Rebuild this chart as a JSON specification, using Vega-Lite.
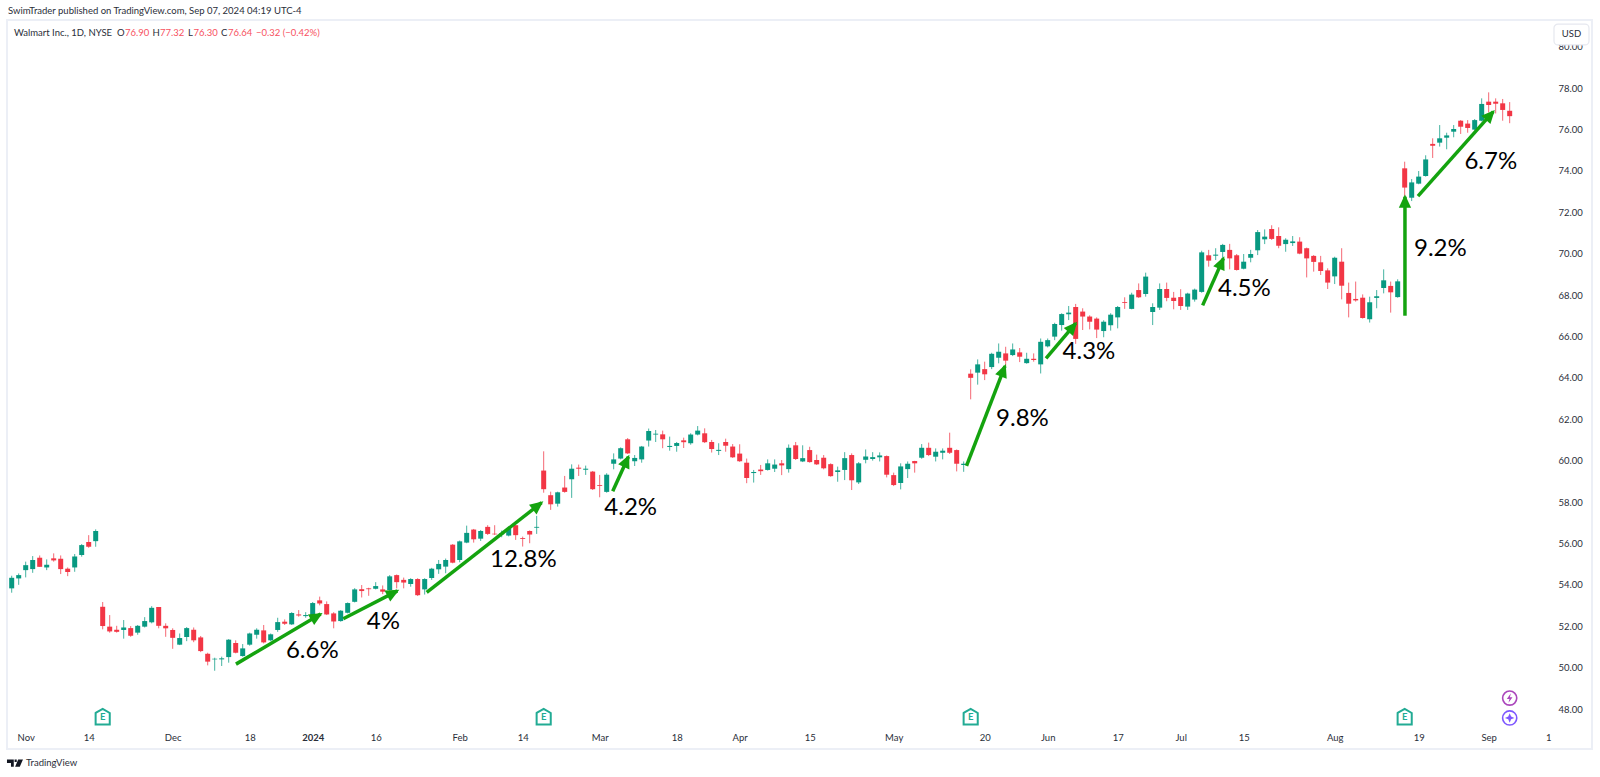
{"$schema":"https://vega.github.io/schema/vega-lite/v6.json","width":1585,"height":729,"autosize":"none","padding":{"left":7,"top":20,"right":8,"bottom":28},"background":"#ffffff","view":{"stroke":"#eceff6","strokeWidth":2},
"datasets":{
"candles":[
{"i":0,"o":53.83,"h":54.44,"l":53.62,"c":54.34},{"i":1,"o":54.31,"h":54.55,"l":54.00,"c":54.47},{"i":2,"o":54.71,"h":55.12,"l":54.36,"c":54.95},{"i":3,"o":54.76,"h":55.39,"l":54.58,"c":55.20},{"i":4,"o":55.31,"h":55.42,"l":54.87,"c":54.87},{"i":5,"o":54.84,"h":55.23,"l":54.71,"c":54.97},{"i":6,"o":55.28,"h":55.52,"l":55.12,"c":55.18},{"i":7,"o":55.26,"h":55.42,"l":54.52,"c":54.76},{"i":8,"o":54.78,"h":54.84,"l":54.42,"c":54.62},{"i":9,"o":54.84,"h":55.49,"l":54.63,"c":55.37},
{"i":10,"o":55.44,"h":55.97,"l":55.36,"c":55.92},{"i":11,"o":56.07,"h":56.40,"l":55.79,"c":55.84},{"i":12,"o":56.11,"h":56.68,"l":55.84,"c":56.60},{"i":13,"o":52.94,"h":53.17,"l":51.85,"c":52.01},{"i":14,"o":51.98,"h":52.54,"l":51.69,"c":51.75},{"i":15,"o":51.83,"h":52.02,"l":51.69,"c":51.73},{"i":16,"o":51.82,"h":52.30,"l":51.40,"c":51.94},{"i":17,"o":51.91,"h":52.01,"l":51.49,"c":51.54},{"i":18,"o":51.69,"h":52.06,"l":51.59,"c":52.02},{"i":19,"o":51.98,"h":52.44,"l":51.94,"c":52.25},
{"i":20,"o":52.19,"h":52.97,"l":52.14,"c":52.89},{"i":21,"o":52.93,"h":52.93,"l":51.90,"c":52.02},{"i":22,"o":52.02,"h":52.14,"l":51.49,"c":51.90},{"i":23,"o":51.82,"h":51.90,"l":50.91,"c":51.44},{"i":24,"o":51.11,"h":51.65,"l":51.09,"c":51.43},{"i":25,"o":51.48,"h":51.96,"l":51.28,"c":51.91},{"i":26,"o":51.83,"h":51.94,"l":51.23,"c":51.32},{"i":27,"o":51.46,"h":51.53,"l":50.75,"c":50.80},{"i":28,"o":50.67,"h":50.72,"l":50.11,"c":50.29},{"i":29,"o":50.40,"h":50.48,"l":49.85,"c":50.43},
{"i":30,"o":50.40,"h":50.53,"l":50.08,"c":50.45},{"i":31,"o":50.51,"h":51.38,"l":50.24,"c":51.35},{"i":32,"o":51.19,"h":51.32,"l":50.69,"c":50.72},{"i":33,"o":50.56,"h":51.14,"l":50.53,"c":50.93},{"i":34,"o":51.11,"h":51.69,"l":51.06,"c":51.65},{"i":35,"o":51.59,"h":51.90,"l":51.40,"c":51.83},{"i":36,"o":51.80,"h":52.06,"l":51.17,"c":51.22},{"i":37,"o":51.32,"h":51.65,"l":51.28,"c":51.61},{"i":38,"o":51.82,"h":52.41,"l":51.73,"c":52.20},{"i":39,"o":52.22,"h":52.33,"l":52.06,"c":52.12},
{"i":40,"o":52.09,"h":52.68,"l":52.06,"c":52.64},{"i":41,"o":52.57,"h":52.78,"l":52.46,"c":52.52},{"i":42,"o":52.49,"h":52.68,"l":52.41,"c":52.54},{"i":43,"o":52.46,"h":53.17,"l":52.43,"c":53.12},{"i":44,"o":53.25,"h":53.43,"l":53.01,"c":53.10},{"i":45,"o":53.07,"h":53.20,"l":52.54,"c":52.57},{"i":46,"o":52.62,"h":52.68,"l":51.90,"c":52.23},{"i":47,"o":52.25,"h":52.78,"l":52.22,"c":52.75},{"i":48,"o":52.65,"h":53.15,"l":52.62,"c":53.12},{"i":49,"o":53.18,"h":53.84,"l":53.15,"c":53.78},
{"i":50,"o":53.79,"h":53.99,"l":53.39,"c":53.70},{"i":51,"o":53.83,"h":53.86,"l":53.47,"c":53.79},{"i":52,"o":53.81,"h":54.13,"l":53.78,"c":53.94},{"i":53,"o":53.78,"h":53.97,"l":53.55,"c":53.67},{"i":54,"o":53.75,"h":54.47,"l":53.71,"c":54.41},{"i":55,"o":54.47,"h":54.50,"l":53.83,"c":54.13},{"i":56,"o":54.24,"h":54.35,"l":53.83,"c":54.11},{"i":57,"o":54.04,"h":54.32,"l":53.91,"c":54.28},{"i":58,"o":54.28,"h":54.32,"l":53.46,"c":53.50},{"i":59,"o":53.78,"h":54.32,"l":53.53,"c":54.28},
{"i":60,"o":54.33,"h":54.82,"l":54.24,"c":54.78},{"i":61,"o":54.75,"h":55.20,"l":54.53,"c":55.01},{"i":62,"o":54.88,"h":55.27,"l":54.56,"c":55.20},{"i":63,"o":55.94,"h":55.97,"l":55.04,"c":55.07},{"i":64,"o":55.20,"h":56.14,"l":55.09,"c":56.10},{"i":65,"o":56.04,"h":56.86,"l":56.01,"c":56.51},{"i":66,"o":56.67,"h":56.70,"l":56.04,"c":56.20},{"i":67,"o":56.23,"h":56.65,"l":56.12,"c":56.60},{"i":68,"o":56.80,"h":56.88,"l":56.41,"c":56.46},{"i":69,"o":56.47,"h":56.88,"l":56.41,"c":56.44},
{"i":70,"o":56.44,"h":56.62,"l":56.30,"c":56.49},{"i":71,"o":56.38,"h":56.81,"l":56.34,"c":56.73},{"i":72,"o":56.88,"h":56.91,"l":56.17,"c":56.40},{"i":73,"o":56.26,"h":56.33,"l":55.85,"c":56.22},{"i":74,"o":56.60,"h":56.63,"l":56.01,"c":56.43},{"i":75,"o":56.76,"h":57.33,"l":56.46,"c":56.80},{"i":76,"o":59.52,"h":60.45,"l":58.45,"c":58.62},{"i":77,"o":58.33,"h":58.50,"l":57.62,"c":57.89},{"i":78,"o":57.92,"h":58.50,"l":57.78,"c":58.47},{"i":79,"o":58.70,"h":59.26,"l":58.45,"c":58.49},
{"i":80,"o":59.10,"h":59.82,"l":58.20,"c":59.61},{"i":81,"o":59.66,"h":59.81,"l":59.26,"c":59.61},{"i":82,"o":59.56,"h":59.76,"l":59.31,"c":59.61},{"i":83,"o":59.47,"h":59.50,"l":58.58,"c":58.62},{"i":84,"o":58.82,"h":59.31,"l":58.23,"c":58.78},{"i":85,"o":58.49,"h":59.39,"l":58.45,"c":59.32},{"i":86,"o":59.85,"h":60.35,"l":59.58,"c":60.06},{"i":87,"o":60.10,"h":60.64,"l":60.06,"c":60.60},{"i":88,"o":61.03,"h":61.09,"l":60.32,"c":60.35},{"i":89,"o":59.97,"h":60.27,"l":59.74,"c":60.13},
{"i":90,"o":60.06,"h":60.71,"l":59.90,"c":60.68},{"i":91,"o":60.97,"h":61.55,"l":60.68,"c":61.43},{"i":92,"o":61.26,"h":61.48,"l":60.90,"c":61.30},{"i":93,"o":61.27,"h":61.45,"l":60.60,"c":61.03},{"i":94,"o":60.66,"h":61.16,"l":60.48,"c":60.71},{"i":95,"o":60.71,"h":60.90,"l":60.43,"c":60.85},{"i":96,"o":60.98,"h":61.11,"l":60.61,"c":60.89},{"i":97,"o":60.84,"h":61.32,"l":60.77,"c":61.26},{"i":98,"o":61.26,"h":61.67,"l":61.22,"c":61.45},{"i":99,"o":61.32,"h":61.56,"l":60.85,"c":60.89},
{"i":100,"o":60.90,"h":61.00,"l":60.39,"c":60.56},{"i":101,"o":60.47,"h":60.84,"l":60.27,"c":60.52},{"i":102,"o":60.90,"h":61.06,"l":60.43,"c":60.72},{"i":103,"o":60.68,"h":60.80,"l":60.13,"c":60.16},{"i":104,"o":60.34,"h":60.79,"l":59.94,"c":59.97},{"i":105,"o":59.90,"h":60.10,"l":58.91,"c":59.16},{"i":106,"o":59.40,"h":59.55,"l":58.94,"c":59.45},{"i":107,"o":59.57,"h":59.79,"l":59.31,"c":59.49},{"i":108,"o":59.55,"h":60.06,"l":59.52,"c":59.87},{"i":109,"o":59.61,"h":60.06,"l":59.45,"c":59.81},
{"i":110,"o":59.87,"h":60.03,"l":59.30,"c":59.77},{"i":111,"o":59.59,"h":60.78,"l":59.42,"c":60.62},{"i":112,"o":60.74,"h":60.90,"l":60.03,"c":60.08},{"i":113,"o":59.96,"h":60.74,"l":59.93,"c":60.12},{"i":114,"o":60.51,"h":60.67,"l":59.90,"c":59.93},{"i":115,"o":60.03,"h":60.29,"l":59.79,"c":59.82},{"i":116,"o":60.14,"h":60.27,"l":59.58,"c":59.63},{"i":117,"o":59.83,"h":59.87,"l":59.22,"c":59.25},{"i":118,"o":59.45,"h":59.71,"l":58.98,"c":59.53},{"i":119,"o":59.55,"h":60.41,"l":59.06,"c":60.12},
{"i":120,"o":60.27,"h":60.35,"l":58.58,"c":59.05},{"i":121,"o":58.95,"h":59.93,"l":58.87,"c":59.87},{"i":122,"o":60.04,"h":60.54,"l":59.87,"c":60.20},{"i":123,"o":60.08,"h":60.41,"l":60.00,"c":60.17},{"i":124,"o":60.16,"h":60.40,"l":59.96,"c":60.25},{"i":125,"o":60.22,"h":60.25,"l":59.19,"c":59.32},{"i":126,"o":59.30,"h":59.42,"l":58.77,"c":58.82},{"i":127,"o":58.92,"h":59.87,"l":58.61,"c":59.72},{"i":128,"o":59.59,"h":59.96,"l":59.16,"c":59.85},{"i":129,"o":59.98,"h":59.99,"l":59.42,"c":59.87},
{"i":130,"o":60.14,"h":60.80,"l":60.09,"c":60.62},{"i":131,"o":60.62,"h":60.87,"l":60.22,"c":60.27},{"i":132,"o":60.19,"h":60.59,"l":59.96,"c":60.43},{"i":133,"o":60.38,"h":60.59,"l":60.06,"c":60.48},{"i":134,"o":60.62,"h":61.35,"l":60.32,"c":60.38},{"i":135,"o":60.51,"h":60.54,"l":59.48,"c":59.85},{"i":136,"o":59.79,"h":59.96,"l":59.46,"c":59.85},{"i":137,"o":64.20,"h":64.41,"l":62.96,"c":64.00},{"i":138,"o":64.25,"h":64.89,"l":63.67,"c":64.65},{"i":139,"o":64.42,"h":64.78,"l":63.89,"c":64.17},
{"i":140,"o":64.52,"h":65.21,"l":64.42,"c":65.16},{"i":141,"o":64.97,"h":65.66,"l":64.70,"c":65.26},{"i":142,"o":65.18,"h":65.50,"l":64.57,"c":64.83},{"i":143,"o":65.10,"h":65.66,"l":65.05,"c":65.37},{"i":144,"o":65.23,"h":65.44,"l":64.76,"c":65.02},{"i":145,"o":64.71,"h":65.21,"l":64.68,"c":64.92},{"i":146,"o":64.92,"h":65.18,"l":64.78,"c":64.86},{"i":147,"o":64.65,"h":65.90,"l":64.21,"c":65.74},{"i":148,"o":65.52,"h":65.90,"l":65.47,"c":65.82},{"i":149,"o":65.99,"h":66.66,"l":65.82,"c":66.60},
{"i":150,"o":66.55,"h":67.12,"l":66.28,"c":67.08},{"i":151,"o":67.07,"h":67.47,"l":66.79,"c":67.15},{"i":152,"o":67.42,"h":67.57,"l":65.64,"c":65.88},{"i":153,"o":67.20,"h":67.36,"l":66.31,"c":66.96},{"i":154,"o":66.96,"h":67.02,"l":66.34,"c":66.71},{"i":155,"o":66.86,"h":66.92,"l":65.92,"c":66.33},{"i":156,"o":66.26,"h":66.78,"l":65.96,"c":66.71},{"i":157,"o":66.54,"h":67.12,"l":66.28,"c":67.05},{"i":158,"o":66.92,"h":67.47,"l":66.39,"c":67.42},{"i":159,"o":67.66,"h":67.89,"l":67.33,"c":67.62},
{"i":160,"o":67.33,"h":68.11,"l":67.31,"c":68.02},{"i":161,"o":68.24,"h":68.56,"l":67.86,"c":67.89},{"i":162,"o":68.05,"h":69.08,"l":67.92,"c":68.89},{"i":163,"o":67.18,"h":67.60,"l":66.55,"c":67.42},{"i":164,"o":67.39,"h":68.56,"l":67.28,"c":68.29},{"i":165,"o":68.29,"h":68.60,"l":67.70,"c":67.86},{"i":166,"o":67.87,"h":68.15,"l":67.31,"c":67.71},{"i":167,"o":67.90,"h":68.28,"l":67.28,"c":67.47},{"i":168,"o":67.44,"h":68.11,"l":67.28,"c":68.07},{"i":169,"o":67.78,"h":68.31,"l":67.68,"c":68.26},
{"i":170,"o":68.15,"h":70.14,"l":68.11,"c":70.06},{"i":171,"o":69.92,"h":70.18,"l":69.37,"c":69.66},{"i":172,"o":69.90,"h":70.26,"l":69.69,"c":69.95},{"i":173,"o":70.08,"h":70.47,"l":69.77,"c":70.42},{"i":174,"o":70.18,"h":70.47,"l":69.24,"c":69.77},{"i":175,"o":69.92,"h":69.98,"l":69.18,"c":69.21},{"i":176,"o":69.27,"h":69.98,"l":69.24,"c":69.61},{"i":177,"o":69.80,"h":70.18,"l":69.58,"c":69.98},{"i":178,"o":70.16,"h":71.14,"l":69.93,"c":71.04},{"i":179,"o":70.69,"h":71.17,"l":70.46,"c":70.82},
{"i":180,"o":71.19,"h":71.37,"l":70.66,"c":70.71},{"i":181,"o":70.85,"h":71.27,"l":70.26,"c":70.38},{"i":182,"o":70.46,"h":70.74,"l":70.09,"c":70.67},{"i":183,"o":70.51,"h":70.85,"l":70.37,"c":70.59},{"i":184,"o":70.58,"h":70.79,"l":69.97,"c":70.00},{"i":185,"o":70.26,"h":70.29,"l":68.85,"c":69.77},{"i":186,"o":69.89,"h":69.93,"l":69.13,"c":69.60},{"i":187,"o":69.58,"h":69.89,"l":68.97,"c":69.16},{"i":188,"o":69.19,"h":69.29,"l":68.29,"c":68.60},{"i":189,"o":68.90,"h":69.85,"l":68.53,"c":69.80},
{"i":190,"o":69.61,"h":70.26,"l":67.79,"c":68.45},{"i":191,"o":68.10,"h":68.60,"l":66.92,"c":67.58},{"i":192,"o":67.81,"h":68.65,"l":67.68,"c":67.74},{"i":193,"o":67.87,"h":68.03,"l":66.86,"c":66.89},{"i":194,"o":66.83,"h":67.92,"l":66.67,"c":67.65},{"i":195,"o":67.86,"h":68.24,"l":67.36,"c":67.94},{"i":196,"o":68.34,"h":69.24,"l":68.08,"c":68.71},{"i":197,"o":68.44,"h":68.65,"l":67.15,"c":68.13},{"i":198,"o":67.90,"h":68.76,"l":67.87,"c":68.66},{"i":199,"o":74.12,"h":74.44,"l":72.78,"c":73.19},
{"i":200,"o":72.70,"h":73.60,"l":72.54,"c":73.44},{"i":201,"o":73.38,"h":73.99,"l":73.35,"c":73.72},{"i":202,"o":73.75,"h":74.75,"l":73.72,"c":74.55},{"i":203,"o":75.30,"h":75.57,"l":74.62,"c":75.21},{"i":204,"o":75.36,"h":76.21,"l":75.17,"c":75.57},{"i":205,"o":75.60,"h":75.84,"l":75.04,"c":75.71},{"i":206,"o":75.89,"h":76.21,"l":75.62,"c":76.02},{"i":207,"o":76.42,"h":76.45,"l":75.78,"c":76.13},{"i":208,"o":76.28,"h":76.45,"l":75.84,"c":76.07},{"i":209,"o":75.99,"h":76.50,"l":75.94,"c":76.45},
{"i":210,"o":76.42,"h":77.50,"l":76.39,"c":77.23},{"i":211,"o":77.34,"h":77.79,"l":76.82,"c":77.18},{"i":212,"o":77.34,"h":77.50,"l":76.77,"c":77.24},{"i":213,"o":77.26,"h":77.47,"l":76.42,"c":76.94},{"i":214,"o":76.90,"h":77.32,"l":76.30,"c":76.64}],
"arrows":[
{"i":32.04,"p":50.17,"i2":44.14,"p2":52.59},{"i":47.37,"p":52.36,"i2":55.09,"p2":53.71},{"i":59.29,"p":53.64,"i2":75.7,"p2":57.97},{"i":85.86,"p":58.52,"i2":88.1,"p2":60.19},{"i":136.4,"p":59.75,"i2":141.9,"p2":64.57},{"i":147.76,"p":64.94,"i2":152.0,"p2":66.63},{"i":170.14,"p":67.5,"i2":173.1,"p2":69.77},{"i":199.04,"p":67.0,"i2":199.04,"p2":72.75},{"i":200.9,"p":72.78,"i2":211.66,"p2":76.86}],
"labels":[
{"i":42.94,"p":50.82,"t":"6.6%"},{"i":53.09,"p":52.22,"t":"4%"},{"i":73.09,"p":55.2,"t":"12.8%"},{"i":88.43,"p":57.7,"t":"4.2%"},{"i":144.4,"p":62.0,"t":"9.8%"},{"i":153.9,"p":65.26,"t":"4.3%"},{"i":176.1,"p":68.28,"t":"4.5%"},{"i":204.1,"p":70.22,"t":"9.2%"},{"i":211.3,"p":74.44,"t":"6.7%"}],
"earnings":[{"i":13,"p":47.61},{"i":76,"p":47.61},{"i":137,"p":47.61},{"i":199,"p":47.61}],
"notes":[
{"i":-0.53,"p":81.72,"t":"SwimTrader published on TradingView.com, Sep 07, 2024 04:19 UTC-4","kind":"ink"},
{"i":0.33,"p":80.66,"t":"Walmart Inc., 1D, NYSE","kind":"ink"},
{"i":15.04,"p":80.66,"t":"O","kind":"ink"},{"i":16.19,"p":80.66,"t":"76.90","kind":"down"},
{"i":20.12,"p":80.66,"t":"H","kind":"ink"},{"i":21.19,"p":80.66,"t":"77.32","kind":"down"},
{"i":25.19,"p":80.66,"t":"L","kind":"ink"},{"i":25.97,"p":80.66,"t":"76.30","kind":"down"},
{"i":29.9,"p":80.66,"t":"C","kind":"ink"},{"i":30.9,"p":80.66,"t":"76.64","kind":"down"},
{"i":34.9,"p":80.66,"t":"−0.32 (−0.42%)","kind":"down"},
{"i":2.04,"p":45.39,"t":"TradingView","kind":"ink"}],
"logo":[{"i":0.47,"p":45.39}],
"currency":[{"i":220.33,"i2":225.33,"p":81.09,"p2":80.08,"t":"USD"}],
"events":[{"i":214,"p":48.53,"kind":"flash"},{"i":214,"p":47.57,"kind":"star"}]
},
"encoding":{
"x":{"field":"i","type":"quantitative","title":null,"scale":{"domain":[-0.67,225.76],"nice":false,"zero":false,"padding":0},
"axis":{"orient":"bottom","offset":-20,"values":[2,11,23,34,43,52,64,73,84,95,104,114,126,139,148,158,167,176,189,201,211,219.5],"labelExpr":"['Nov','14','Dec','18','2024','16','Feb','14','Mar','18','Apr','15','May','20','Jun','17','Jul','15','Aug','19','Sep','1'][indexof([2,11,23,34,43,52,64,73,84,95,104,114,126,139,148,158,167,176,189,201,211,219.5],datum.value)]","labelFontWeight":{"expr":"datum.value==43?'bold':'normal'"},"labelOverlap":false,"labelFlush":false,"grid":false,"domain":false,"ticks":false,"tickSize":0,"labelPadding":3,"labelFont":"Lato","labelFontSize":9.5,"labelColor":"#2a2e39","labelAngle":0}},
"y":{"field":"p","type":"quantitative","title":null,"scale":{"domain":[46.07,81.285],"nice":false,"zero":false},
"axis":{"orient":"right","offset":-37,"values":[48,50,52,54,56,58,60,62,64,66,68,70,72,74,76,78,80],"format":".2f","grid":false,"domain":false,"ticks":false,"tickSize":0,"labelPadding":3,"labelFont":"Lato","labelFontSize":9.5,"labelColor":"#2a2e39","labelAlign":"left"}}
},
"layer":[
{"data":{"name":"candles"},"mark":{"type":"rule","strokeWidth":1,"opacity":0.75},"encoding":{"y":{"field":"l","type":"quantitative","scale":{"domain":[46.07,81.285],"nice":false,"zero":false},"title":null},"y2":{"field":"h"},"color":{"condition":{"test":"datum.c>=datum.o","value":"#089981"},"value":"#f23645"}}},
{"data":{"name":"candles"},"mark":{"type":"bar","size":5,"orient":"vertical"},"encoding":{"y":{"field":"o","type":"quantitative","scale":{"domain":[46.07,81.285],"nice":false,"zero":false},"title":null},"y2":{"field":"c"},"color":{"condition":{"test":"datum.c>=datum.o","value":"#089981"},"value":"#f23645"}}},
{"data":{"name":"arrows"},"mark":{"type":"rule","strokeWidth":3.5,"color":"#14a30f"},"encoding":{"x2":{"field":"i2"},"y2":{"field":"p2"}}},
{"data":{"name":"arrows"},"transform":[{"calculate":"atan2((datum.i2-datum.i)*7,(datum.p2-datum.p)*20.7)*180/PI","as":"heading"}],"mark":{"type":"point","filled":true,"opacity":1,"color":"#14a30f","size":500,"shape":"M0,-0.2L0.55,1L-0.55,1Z"},"encoding":{"x":{"field":"i2","type":"quantitative","scale":{"domain":[-0.67,225.76],"nice":false,"zero":false,"padding":0},"title":null},"y":{"field":"p2","type":"quantitative","scale":{"domain":[46.07,81.285],"nice":false,"zero":false},"title":null},"angle":{"field":"heading","type":"quantitative","scale":null}}},
{"data":{"name":"labels"},"mark":{"type":"text","font":"Lato","fontSize":24,"color":"#000000","align":"center","baseline":"middle"},"encoding":{"text":{"field":"t"}}},
{"data":{"name":"earnings"},"mark":{"type":"point","filled":true,"fill":"#ffffff","stroke":"#22ab94","strokeWidth":2,"opacity":1,"size":276,"shape":"M-0.85,-0.5L0,-1L0.85,-0.5L0.85,0.9L-0.85,0.9Z"}},
{"data":{"name":"earnings"},"mark":{"type":"text","text":"E","font":"Lato","fontSize":9.5,"fontWeight":"bold","color":"#22ab94","align":"center","baseline":"middle"}},
{"data":{"name":"events"},"mark":{"type":"point","shape":"circle","size":200,"filled":true,"fill":"#ffffff","strokeWidth":1.6,"opacity":1},"encoding":{"stroke":{"field":"kind","type":"nominal","scale":{"domain":["flash","star"],"range":["#ab47bc","#7e57ff"]},"legend":null}}},
{"data":{"name":"events"},"transform":[{"filter":"datum.kind=='flash'"}],"mark":{"type":"point","filled":true,"color":"#ab47bc","opacity":1,"size":90,"shape":"M0.25,-1L-0.6,0.2L-0.05,0.2L-0.25,1L0.6,-0.2L0.05,-0.2Z"}},
{"data":{"name":"events"},"transform":[{"filter":"datum.kind=='star'"}],"mark":{"type":"point","filled":true,"color":"#7e57ff","opacity":1,"size":90,"shape":"M0,-1L0.3,-0.3L1,0L0.3,0.3L0,1L-0.3,0.3L-1,0L-0.3,-0.3Z"}},
{"data":{"name":"notes"},"mark":{"type":"text","font":"Lato","fontSize":9.5,"align":"left","baseline":"middle"},"encoding":{"text":{"field":"t"},"color":{"field":"kind","type":"nominal","scale":{"domain":["ink","down"],"range":["#2a2e39","#f7525f"]},"legend":null}}},
{"data":{"name":"logo"},"mark":{"type":"point","filled":true,"color":"#131722","opacity":1,"size":256,"shape":"M-1,-0.45L-0.15,-0.45L-0.15,0.45L-0.5,0.45L-0.5,0L-1,0ZM-0.05,-0.45L0.22,-0.45L0.22,-0.15L-0.05,-0.15ZM0.4,-0.45L1,-0.45L0.6,0.45L0.02,0.45Z"}},
{"data":{"name":"currency"},"mark":{"type":"rect","fill":"#ffffff","stroke":"#e6e8ef","strokeWidth":1.2,"cornerRadius":4},"encoding":{"x2":{"field":"i2"},"y2":{"field":"p2"}}},
{"data":{"name":"currency"},"transform":[{"calculate":"(datum.i+datum.i2)/2","as":"mid"},{"calculate":"(datum.p+datum.p2)/2","as":"pmid"}],"mark":{"type":"text","font":"Lato","fontSize":9.5,"color":"#2a2e39","align":"center","baseline":"middle"},"encoding":{"x":{"field":"mid","type":"quantitative","scale":{"domain":[-0.67,225.76],"nice":false,"zero":false,"padding":0},"title":null},"y":{"field":"pmid","type":"quantitative","scale":{"domain":[46.07,81.285],"nice":false,"zero":false},"title":null},"text":{"field":"t"}}}
]}
